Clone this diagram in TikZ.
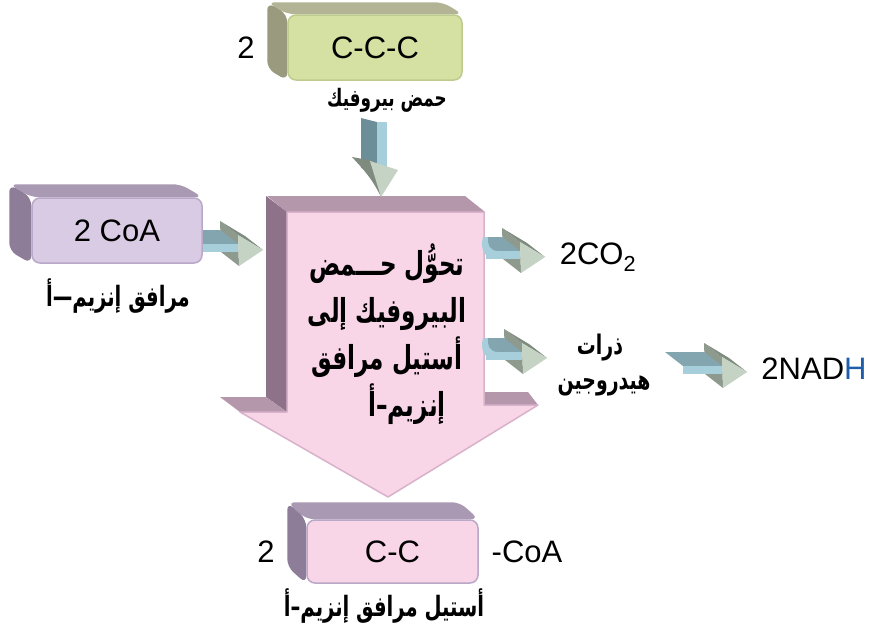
\documentclass[tikz,border=0pt]{standalone}
\usepackage{fontspec}
\setmainfont{Liberation Sans}
\newfontfamily\arabicfont[Script=Arabic,FakeStretch=0.7]{DejaVu Sans}
\TeXXeTstate=1
\usetikzlibrary{calc}
\pgfdeclarelayer{bottom}
\pgfdeclarelayer{background}
\pgfsetlayers{bottom,background,main}
\definecolor{olivetop}{HTML}{B3B496}
\definecolor{oliveside}{HTML}{9A9B7E}
\definecolor{greenfront}{HTML}{D5E1A3}
\definecolor{greenborder}{HTML}{BFCB8E}
\definecolor{purptop}{HTML}{A999B3}
\definecolor{purpside}{HTML}{8E7D99}
\definecolor{lavfront}{HTML}{D9CBE4}
\definecolor{lavborder}{HTML}{BAA8C9}
\definecolor{pinkfront}{HTML}{F9D5E8}
\definecolor{mtop}{HTML}{B597AB}
\definecolor{mside}{HTML}{8E7289}
\definecolor{aborder}{HTML}{D8B2CA}
\definecolor{shaftlight}{HTML}{A6CFDB}
\definecolor{shafttop}{HTML}{83A5B0}
\definecolor{shaftside}{HTML}{6C8E99}
\definecolor{headlight}{HTML}{C4D3C3}
\definecolor{headdark}{HTML}{7F8B7F}
\definecolor{headside}{HTML}{8E9A8E}
\definecolor{hblue}{HTML}{1F5FAA}
\newcommand\AR[1]{{\arabicfont\bfseries\beginR #1\endR}}
% horizontal 3D block arrow: #1 front shaft start x, #2 back shaft start x, #3 tip x, #4 tip y
\newcommand\HArrowDraw[4]{%
  \fill[headside] (#3-43,#4-29) -- (#3-25,#4-15) -- (#3-24,#4+16) -- (#3-42,#4+2) -- cycle;
  \fill[headdark] (#3-43,#4-29) -- (#3-18,#4-14) -- (#3,#4) -- (#3-25,#4-15) -- cycle;
  \fill[shafttop] (#1,#4-6) -- (#3-25,#4-6) -- (#3-43,#4-20) -- (#2,#4-20) -- cycle;
  \fill[shaftlight] (#1,#4-6) rectangle (#3-25,#4+2);
  \fill[headlight] (#3-25,#4-15) -- (#3,#4) -- (#3-24,#4+16) -- cycle;
}
% curled start of an arrow that leaves a surface: #1 x, #2 tip y
\newcommand\CurlDraw[2]{%
  \fill[shaftlight] (#1-3,#2-20) .. controls (#1-6,#2-8) and (#1-2,#2+2) .. (#1+12,#2+2)
     -- (#1+12,#2-6) .. controls (#1+4,#2-6) and (#1+1,#2-12) .. (#1+2,#2-20) -- cycle;
}
\tikzset{
  x=1pt, y=-1pt,
  face/.style={line width=1.5pt, rounded corners=8pt, inner sep=0pt,
    font=\fontsize{31}{33}\selectfont},
  latin/.style={font=\fontsize{31}{33}\selectfont, inner sep=0pt},
  arlabel/.style={font=\fontsize{27}{30}\selectfont, inner sep=0pt},
}
\begin{document}
\begin{tikzpicture}
\useasboundingbox (0,0) rectangle (874,637);
\begin{pgfonlayer}{bottom}
\fill[white] (0,0) rectangle (874,637);
\end{pgfonlayer}

% big arrow
\fill[mtop] (267,196) -- (465,196) -- (485,212) -- (287,212) -- cycle;
\fill[mside] (266,196) -- (287,212) -- (287,412) -- (266,397) -- cycle;
\fill[mtop] (220,397) -- (266,397) -- (287,412) -- (240,412) -- cycle;
\fill[mtop] (483,392) -- (528,392) -- (538,405) -- (483,405) -- cycle;
\draw[draw=aborder, fill=pinkfront, line width=1.5pt, line join=round]
  (287,212) -- (484,212) -- (484,405) -- (538,405) -- (388,497) -- (240,412) -- (287,412) -- cycle;
\node[font=\fontsize{33}{47}\selectfont, align=center, inner sep=0pt] (conv) at (387,334)
  {\AR{تحوُّل حـــمض}\\\AR{البيروفيك إلى}\\\AR{أستيل مرافق}\\\hspace*{40pt}\AR{إنزيم–أ}};

% small arrows
\HArrowDraw{203}{203}{263}{250}
\HArrowDraw{486}{486}{545}{257}
\CurlDraw{486}{257}
\HArrowDraw{486}{486}{547}{358}
\CurlDraw{486}{358}
\HArrowDraw{683}{665}{747}{372}

% vertical arrow
\fill[shaftside] (361,118) -- (377,122) -- (377,172) -- (361,168) -- cycle;
\fill[shaftlight] (377,122) rectangle (387,172);
\fill[headdark] (352,157) -- (374,161) -- (381,197) .. controls (372,178) and (362,168) .. (352,157) -- cycle;
\fill[headlight] (370,161) -- (398,170) -- (381,197) -- cycle;

% boxes
\node[face, fill=greenfront, draw=greenborder, minimum width=174pt, minimum height=65pt] (ccc) at (375,47.5) {C-C-C};
\node[face, fill=lavfront, draw=lavborder, minimum width=170pt, minimum height=65pt] (coa) at (117,230.5) {2 CoA};
\node[face, fill=pinkfront, draw=lavborder, minimum width=171pt, minimum height=63pt] (cc) at (392.5,551.5) {C-C};
\begin{pgfonlayer}{background}
  \fill[olivetop, rounded corners=8pt] ($(ccc.north west)+(-20,-12)$) -- ($(ccc.north east)+(-20,-12)$) -- (ccc.north east) -- (ccc.north west) -- cycle;
  \fill[oliveside, rounded corners=8pt] ($(ccc.north west)+(-20,-12)$) -- (ccc.north west) -- (ccc.south west) -- ($(ccc.south west)+(-20,-12)$) -- cycle;
  \fill[purptop, rounded corners=8pt] ($(coa.north west)+(-22,-13)$) -- ($(coa.north east)+(-22,-13)$) -- (coa.north east) -- (coa.north west) -- cycle;
  \fill[purpside, rounded corners=8pt] ($(coa.north west)+(-22,-13)$) -- (coa.north west) -- (coa.south west) -- ($(coa.south west)+(-22,-13)$) -- cycle;
  \fill[purptop, rounded corners=8pt] ($(cc.north west)+(-19,-17)$) -- ($(cc.north east)+(-19,-17)$) -- (cc.north east) -- (cc.north west) -- cycle;
  \fill[purpside, rounded corners=8pt] ($(cc.north west)+(-19,-17)$) -- (cc.north west) -- (cc.south west) -- ($(cc.south west)+(-19,-17)$) -- cycle;
\end{pgfonlayer}

% labels
\node[latin] (two1) at (246,48) {2};
\node[arlabel, font=\fontsize{24}{27}\selectfont] (pyr) at (387,100) {\AR{حمض بيروفيك}};
\node[arlabel, font=\fontsize{28}{31}\selectfont] (coaar) at (118,296) {\AR{مرافق إنزيم—أ}};
\node[latin] (co2) at (598,257) {2CO\textsubscript{2}};
\node[arlabel] (hat1) at (600,348) {\AR{ذرات}};
\node[arlabel] (hat2) at (604,386) {\AR{هيدروجين}};
\node[latin] (nadh) at (814,369) {2NAD\textcolor{hblue}{H}};
\node[latin] (two2) at (266,552) {2};
\node[latin] (coal) at (527,552) {-CoA};
\node[arlabel, font=\fontsize{28}{31}\selectfont] (acet) at (384,606) {\AR{أستيل مرافق إنزيم–أ}};
\end{tikzpicture}
\end{document}
